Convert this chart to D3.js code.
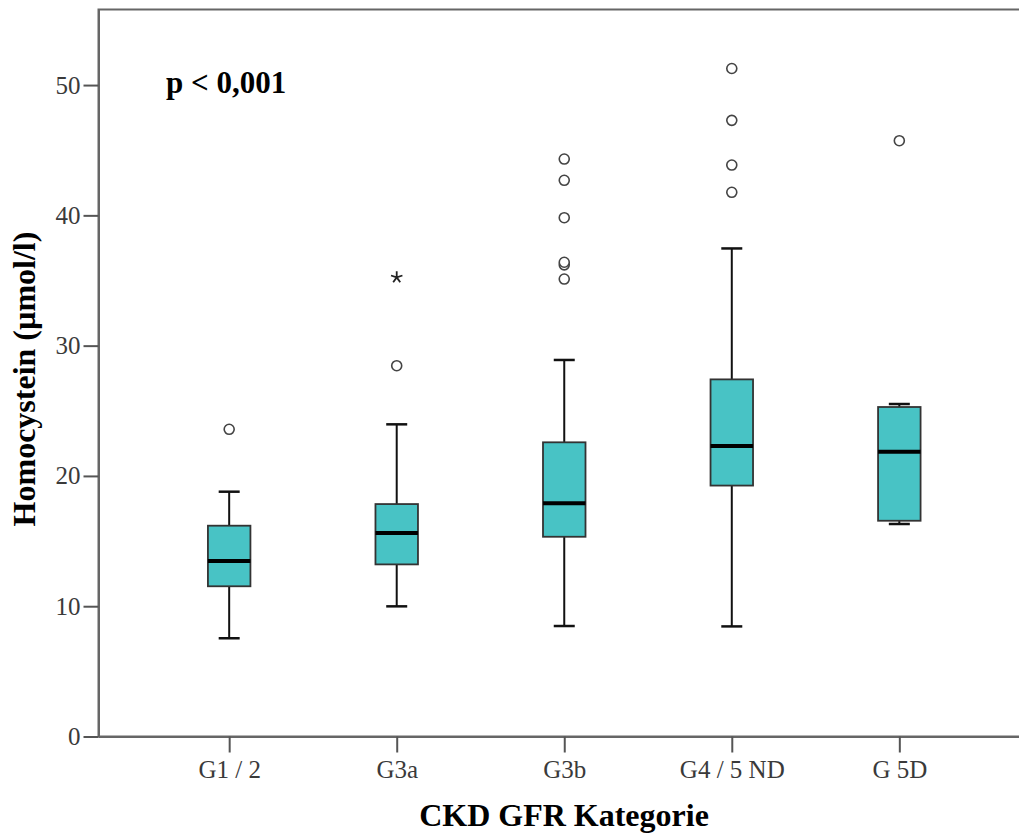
<!DOCTYPE html>
<html><head><meta charset="utf-8">
<script src="https://cdn.jsdelivr.net/npm/d3@7"></script>
<style>body{margin:0;background:#fff}svg{display:block}</style>
</head><body>
<svg id="c" width="1019" height="836"></svg>
<script>
const categories = ["G1 / 2", "G3a", "G3b", "G4 / 5 ND", "G 5D"];
const whiskerLow  = [7.54, 9.99, 8.48, 8.45, 16.31];
const q1          = [11.53, 13.21, 15.33, 19.26, 16.56];
const medians     = [13.47, 15.62, 17.9, 22.29, 21.86];
const q3          = [16.18, 17.84, 22.58, 27.41, 25.29];
const whiskerHigh = [18.79, 23.96, 28.9, 37.46, 25.52];
const outliers = [
  [23.58],
  [28.46],
  [35.11, 36.2, 36.4, 39.82, 42.69, 44.32],
  [41.77, 43.86, 47.29, 51.27],
  [45.73]
];
const extremes = [[], [35.24], [], [], []];
const yTicks = [0, 10, 20, 30, 40, 50];

(function () {
const svg = d3.select("#c");
const left = 98.5, topY = 9.5, bottom = 736.5, right = 1030;
const y = d3.scaleLinear().domain([0, 55.8]).range([bottom, topY]);
const x = d3.scalePoint().domain(categories).range([left, right]).padding(0.78);
const boxW = 42.5, capW = 21;
const serif = "Liberation Serif, 'Times New Roman', serif";

svg.append("rect").attr("x", left).attr("y", topY).attr("width", right - left).attr("height", bottom - topY)
  .attr("fill", "none").attr("stroke", "#666").attr("stroke-width", 2);

const yAxis = svg.append("g").attr("transform", `translate(${left},0)`)
  .call(d3.axisLeft(y).tickValues(yTicks).tickSize(15).tickSizeOuter(0).tickPadding(3));
const xAxis = svg.append("g").attr("transform", `translate(0,${bottom})`)
  .call(d3.axisBottom(x).tickSize(16).tickSizeOuter(0).tickPadding(8));
[yAxis, xAxis].forEach(g => {
  g.attr("font-family", serif);
  g.select(".domain").attr("stroke", "#666").attr("stroke-width", 2);
  g.selectAll(".tick line").attr("stroke", "#555").attr("stroke-width", 2);
  g.selectAll("text").attr("font-family", serif).attr("font-size", 25).attr("fill", "#3a3a3a");
});

const data = categories.map((c, i) => ({c, lo: whiskerLow[i], q1: q1[i], med: medians[i], q3: q3[i], hi: whiskerHigh[i], out: outliers[i], ext: extremes[i]}));
const g = svg.append("g");
data.forEach(d => {
  const cx = x(d.c);
  g.append("line").attr("x1", cx).attr("x2", cx).attr("y1", y(d.hi)).attr("y2", y(d.q3)).attr("stroke", "#111").attr("stroke-width", 2);
  g.append("line").attr("x1", cx).attr("x2", cx).attr("y1", y(d.q1)).attr("y2", y(d.lo)).attr("stroke", "#111").attr("stroke-width", 2);
  [d.hi, d.lo].forEach(v => g.append("line").attr("x1", cx - capW / 2).attr("x2", cx + capW / 2).attr("y1", y(v)).attr("y2", y(v)).attr("stroke", "#111").attr("stroke-width", 2.5));
  g.append("rect").attr("x", cx - boxW / 2).attr("y", y(d.q3)).attr("width", boxW).attr("height", y(d.q1) - y(d.q3))
    .attr("fill", "#48c3c5").attr("stroke", "#333").attr("stroke-width", 1.8);
  g.append("line").attr("x1", cx - boxW / 2).attr("x2", cx + boxW / 2).attr("y1", y(d.med)).attr("y2", y(d.med)).attr("stroke", "#000").attr("stroke-width", 4);
  d.out.forEach(v => g.append("circle").attr("cx", cx).attr("cy", y(v)).attr("r", 5).attr("fill", "#fff").attr("stroke", "#444").attr("stroke-width", 1.6));
  d.ext.forEach(v => {
    const r = 6;
    let p = "";
    for (let k = 0; k < 5; k++) {
      const a = -Math.PI / 2 + k * 2 * Math.PI / 5;
      p += `M${cx},${y(v)}L${cx + r * Math.cos(a)},${y(v) + r * Math.sin(a)}`;
    }
    g.append("path").attr("d", p).attr("stroke", "#222").attr("stroke-width", 1.8).attr("fill", "none");
  });
});

svg.append("text").attr("x", 166).attr("y", 93).attr("font-family", serif).attr("font-weight", "bold")
  .attr("font-size", 31).attr("fill", "#000").text("p < 0,001");
svg.append("text").attr("transform", `translate(35,379) rotate(-90)`).attr("text-anchor", "middle")
  .attr("font-family", serif).attr("font-weight", "bold").attr("font-size", 32).attr("fill", "#000")
  .text("Homocystein (µmol/l)");
svg.append("text").attr("x", 564).attr("y", 826).attr("text-anchor", "middle")
  .attr("font-family", serif).attr("font-weight", "bold").attr("font-size", 32).attr("fill", "#000")
  .text("CKD GFR Kategorie");
})();
</script>
</body></html>
